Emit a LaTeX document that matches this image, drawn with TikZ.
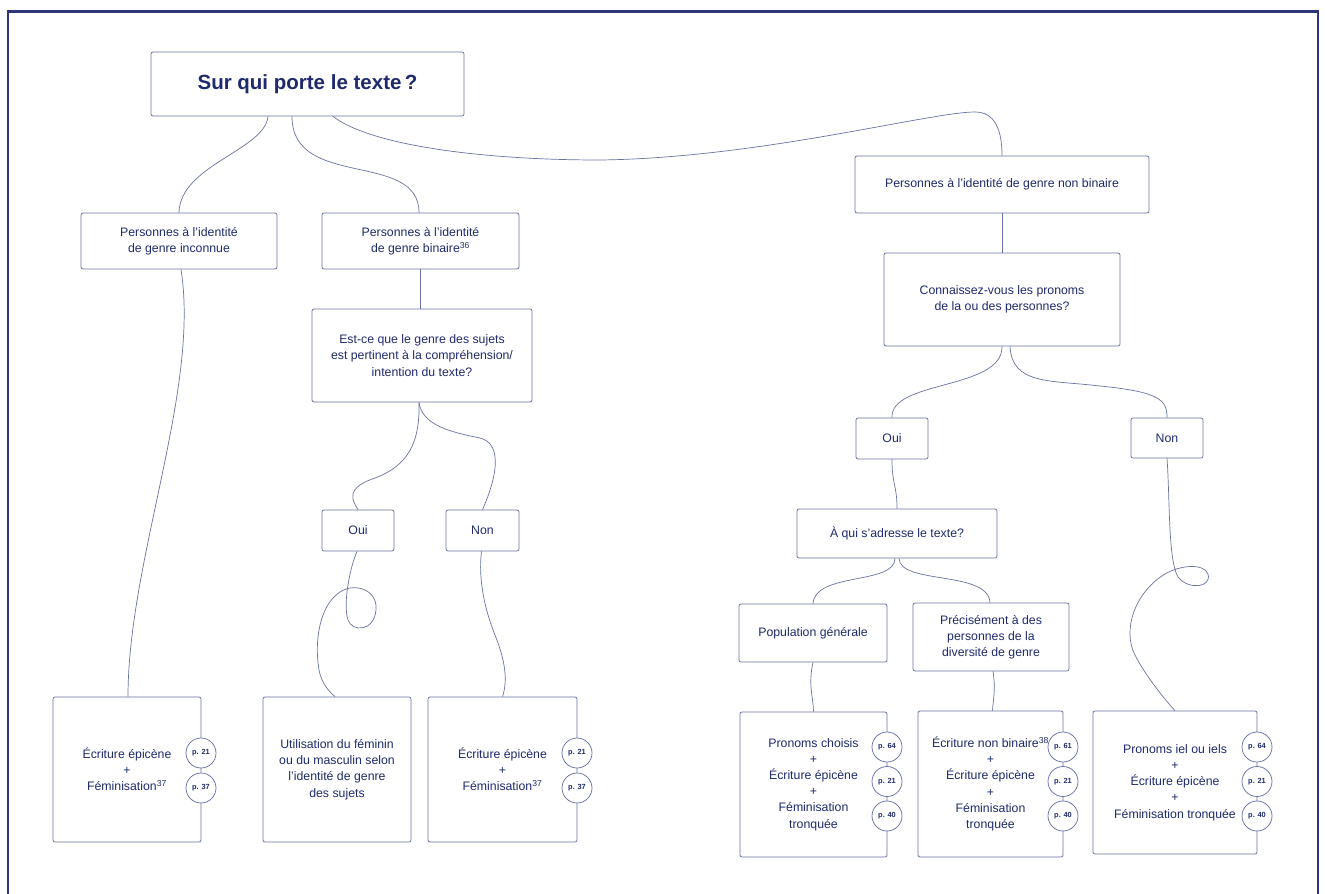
\documentclass[tikz,border=0pt]{standalone}
\usepackage{fontspec}
\setmainfont{Liberation Sans}
\usetikzlibrary{calc}
\definecolor{txt}{RGB}{30,42,108}
\definecolor{ln}{RGB}{105,114,162}
\definecolor{frm}{RGB}{45,55,120}
\begin{document}
\begin{tikzpicture}[x=1pt,y=-1pt,
  box/.style={draw=ln,line width=0.75pt,rounded corners=2pt,text=txt,align=center,inner sep=0pt,font=\fontsize{12.3}{16.2}\selectfont},
  pg/.style={circle,draw=ln,line width=0.75pt,fill=white,minimum size=30pt,inner sep=0pt,text=txt,font=\bfseries\fontsize{7.4}{8}\selectfont},
  conn/.style={draw=ln,line width=0.7pt}]
\useasboundingbox[fill=white] (0,0) rectangle (1325,894);
\draw[frm,line width=2.5pt] (8,894) -- (8,11.5) -- (1318,11.5) -- (1318,894);

% nodes
\node[box,minimum width=313pt,minimum height=64pt,font=\bfseries\fontsize{20.5}{24}\selectfont] (title) at (307.5,84) {Sur qui porte le texte\,?};
\node[box,minimum width=196pt,minimum height=56pt] (inc) at (179,241) {Personnes à l’identité\\de genre inconnue};
\node[box,minimum width=197pt,minimum height=56pt] (bin) at (420.5,241) {Personnes à l’identité\\de genre binaire\textsuperscript{36}};
\node[box,minimum width=220pt,minimum height=93pt] (q1) at (422,355.5) {Est-ce que le genre des sujets\\est pertinent à la compréhension/\\intention du texte?};
\node[box,minimum width=72pt,minimum height=41pt] (oui1) at (358,530.5) {Oui};
\node[box,minimum width=73pt,minimum height=41pt] (non1) at (482.5,530.5) {Non};
\node[box,minimum width=148pt,minimum height=145pt] (L1) at (127,769.5) {Écriture épicène\\+\\Féminisation\textsuperscript{37}};
\node[box,minimum width=148pt,minimum height=145pt] (L2) at (337,769.5) {Utilisation du féminin\\ou du masculin selon\\l’identité de genre\\des sujets};
\node[box,minimum width=149pt,minimum height=145pt] (L3) at (502.5,769.5) {Écriture épicène\\+\\Féminisation\textsuperscript{37}};

\node[box,minimum width=294pt,minimum height=57pt] (nb) at (1002,184.5) {Personnes à l’identité de genre non binaire};
\node[box,minimum width=236pt,minimum height=93pt] (q2) at (1002,299.5) {Connaissez-vous les pronoms\\de la ou des personnes?};
\node[box,minimum width=72pt,minimum height=41pt] (oui2) at (892,438.5) {Oui};
\node[box,minimum width=72pt,minimum height=40pt] (non2) at (1167,438) {Non};
\node[box,minimum width=200pt,minimum height=49pt] (q3) at (897,533.5) {À qui s’adresse le texte?};
\node[box,minimum width=148pt,minimum height=58pt] (pop) at (813,633) {Population générale};
\node[box,minimum width=156pt,minimum height=68pt] (pre) at (991,637) {Précisément à des\\personnes de la\\diversité de genre};
\node[box,minimum width=147pt,minimum height=145pt] (R1) at (813.5,784.5) {Pronoms choisis\\+\\Écriture épicène\\+\\Féminisation\\tronquée};
\node[box,minimum width=145pt,minimum height=146pt] (R2) at (990.5,784) {Écriture non binaire\textsuperscript{38}\\+\\Écriture épicène\\+\\Féminisation\\tronquée};
\node[box,minimum width=164pt,minimum height=143pt] (R3) at (1175,782.5) {Pronoms iel ou iels\\+\\Écriture épicène\\+\\Féminisation tronquée};

% page circles
\node[pg] (L1a) at (201,753) {p. 21};
\node[pg] (L1b) at (201,788) {p. 37};
\node[pg] (L3a) at (577,753) {p. 21};
\node[pg] (L3b) at (577,788) {p. 37};
\node[pg] (R1a) at (887,747) {p. 64};
\node[pg] (R1b) at (887,781.5) {p. 21};
\node[pg] (R1c) at (887,816) {p. 40};
\node[pg] (R2a) at (1063,747) {p. 61};
\node[pg] (R2b) at (1063,781.5) {p. 21};
\node[pg] (R2c) at (1063,816) {p. 40};
\node[pg] (R3a) at (1257,747) {p. 64};
\node[pg] (R3b) at (1257,781.5) {p. 21};
\node[pg] (R3c) at (1257,816) {p. 40};

% connectors, left part
\draw[conn] ([xshift=-39.5pt]title.south) .. controls (265,150) and (180,165) .. (inc.north);
\draw[conn] ([xshift=-15.5pt]title.south) .. controls (292,190) and (419,150) .. ([xshift=-1.5pt]bin.north);
\draw[conn] ([xshift=25.5pt]title.south) .. controls (370,145) and (480,160) .. (600,160)
  .. controls (760,158) and (930,112) .. (975,112)
  .. controls (995,112) and (1002,130) .. (nb.north);
\draw[conn] ([xshift=2pt]inc.south) .. controls (200,390) and (128,560) .. ([xshift=1pt]L1.north);
\draw[conn] (bin.south) -- (bin.south |- q1.north);
\draw[conn] ([xshift=-3pt]q1.south) .. controls (420,440) and (410,465) .. (375,478)
  .. controls (345,488) and (352,500) .. (oui1.north);
\draw[conn] ([xshift=-3pt]q1.south) .. controls (422,425) and (450,432) .. (480,438)
  .. controls (500,443) and (500,470) .. (non1.north);
\draw[conn] ([xshift=-1pt]oui1.south) .. controls (349,570) and (343,605) .. (348,620)
  .. controls (352,632) and (374,632) .. (376,610)
  .. controls (378,590) and (355,582) .. (340,592)
  .. controls (320,605) and (314,640) .. (319,670)
  .. controls (322,685) and (330,692) .. ([xshift=-2pt]L2.north);
\draw[conn] ([xshift=-1pt]non1.south) .. controls (478,580) and (485,610) .. (495,635)
  .. controls (505,660) and (508,680) .. (L3.north);

% connectors, right part
\draw[conn] (nb.south) -- (q2.north);
\draw[conn] (q2.south) .. controls (1003,390) and (890,380) .. (oui2.north);
\draw[conn] ([xshift=8pt]q2.south) .. controls (1012,385) and (1050,380) .. (1100,386)
  .. controls (1160,392) and (1167,400) .. (non2.north);
\draw[conn] (oui2.south) .. controls (892,485) and (897,485) .. (q3.north);
\draw[conn] ([xshift=-2pt]q3.south) .. controls (895,585) and (815,572) .. (pop.north);
\draw[conn] ([xshift=2pt]q3.south) .. controls (900,585) and (988,570) .. ([xshift=-1pt]pre.north);
\draw[conn] (pop.south) .. controls (808,685) and (813,695) .. (R1.north);
\draw[conn] ([xshift=2pt]pre.south) .. controls (996,690) and (993,700) .. ([xshift=2pt]R2.north);
\draw[conn] (non2.south) .. controls (1170,500) and (1168,560) .. (1178,577)
  .. controls (1188,590) and (1212,588) .. (1208,574)
  .. controls (1204,563) and (1180,565) .. (1165,574)
  .. controls (1135,592) and (1122,630) .. (1135,655)
  .. controls (1145,675) and (1165,700) .. (R3.north);
\end{tikzpicture}
\end{document}
